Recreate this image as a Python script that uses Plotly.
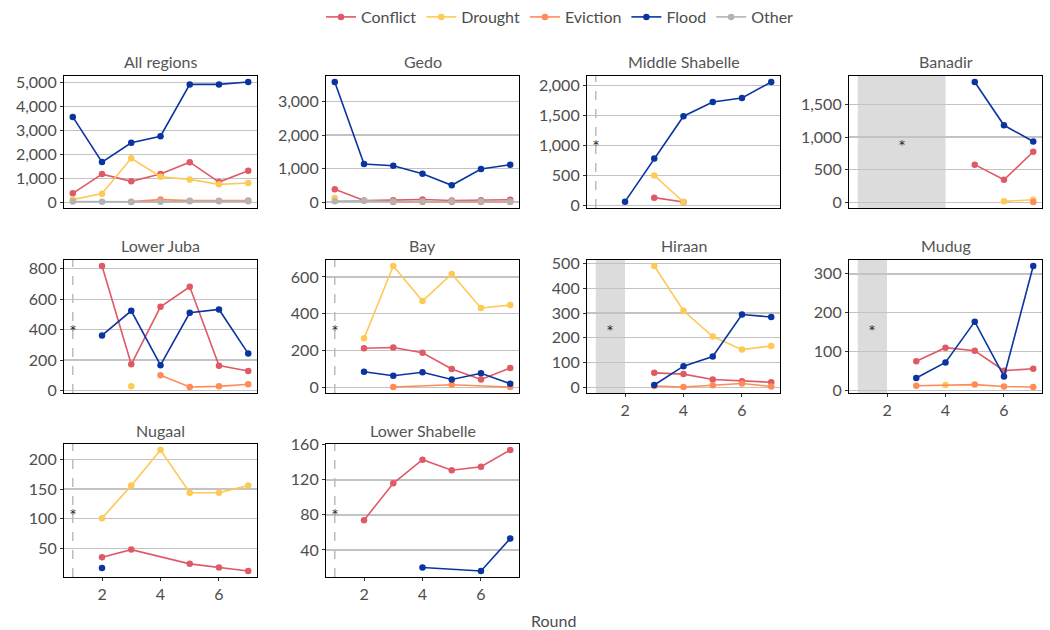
import plotly.graph_objects as go

rounds = [1, 2, 3, 4, 5, 6, 7]
causes = ["Conflict", "Drought", "Eviction", "Flood", "Other"]
cause_colors = ["#E05A66", "#FFC955", "#FF8C57", "#0A35A0", "#B3B3B3"]

regions = ["All regions", "Gedo", "Middle Shabelle", "Banadir",
           "Lower Juba", "Bay", "Hiraan", "Mudug",
           "Nugaal", "Lower Shabelle"]

N = None
# ---- values per region (Conflict, Drought, Eviction, Flood, Other) ----
all_conflict = [374, 1177, 873, 1177, 1676, 845, 1316]
all_drought = [110, 360, 1842, 1066, 956, 748, 803]
all_eviction = [N, N, 25, 110, 66, 58, 70]
all_flood = [3570, 1680, 2490, 2760, 4930, 4930, 5030]
all_other = [30, 20, 10, 20, 40, 40, 40]

gedo_conflict = [385, 50, 60, 80, 50, 60, 70]
gedo_drought = [125, N, N, N, N, N, N]
gedo_eviction = [N, N, 5, 5, 5, 5, 5]
gedo_flood = [3583, 1135, 1086, 849, 503, 987, 1115]
gedo_other = [30, 40, 20, 20, 30, 30, 20]

msh_conflict = [N, N, 128, 55, N, N, N]
msh_drought = [N, N, 500, 55, N, N, N]
msh_flood = [N, 61, 783, 1489, 1728, 1794, 2061]

ban_conflict = [N, N, N, N, 578, 345, 775]
ban_drought = [N, N, N, N, N, 15, 40]
ban_eviction = [N, N, N, N, N, N, 5]
ban_flood = [N, N, N, N, 1845, 1181, 933]

lju_conflict = [N, 818, 173, 550, 682, 164, 129]
lju_drought = [N, N, 28, N, N, N, N]
lju_eviction = [N, N, N, 101, 24, 28, 42]
lju_flood = [N, 362, 524, 167, 511, 533, 243]

bay_conflict = [N, 212, 216, 188, 100, 43, 105]
bay_drought = [N, 266, 659, 469, 616, 431, 447]
bay_eviction = [N, N, 2, N, 14, N, 2]
bay_flood = [N, 85, 63, 82, 43, 76, 20]

hir_conflict = [N, N, 58, 53, 31, 24, 20]
hir_drought = [N, N, 490, 309, 205, 152, 167]
hir_eviction = [N, N, 5, 1, 8, 15, 3]
hir_flood = [N, N, 9, 85, 124, 294, 284]

mud_conflict = [N, N, 75, 110, 102, 51, 56]
mud_drought = [N, N, N, 14, N, N, N]
mud_eviction = [N, N, 12, N, 15, 10, 9]
mud_flood = [N, N, 32, 72, 177, 36, 320]

nug_conflict = [N, 35, 48, N, 24, 18, 12]
nug_drought = [N, 101, 156, 216, 144, 144, 156]
nug_flood = [N, 17, N, N, N, N, N]

lsh_conflict = [N, 74, 116, 143, 131, 135, 154]
lsh_flood = [N, N, N, 20, N, 16, 53]

region_series = {
    "All regions": {"Conflict": all_conflict, "Drought": all_drought, "Eviction": all_eviction,
                    "Flood": all_flood, "Other": all_other},
    "Gedo": {"Conflict": gedo_conflict, "Drought": gedo_drought, "Eviction": gedo_eviction,
             "Flood": gedo_flood, "Other": gedo_other},
    "Middle Shabelle": {"Conflict": msh_conflict, "Drought": msh_drought, "Flood": msh_flood},
    "Banadir": {"Conflict": ban_conflict, "Drought": ban_drought, "Eviction": ban_eviction,
                "Flood": ban_flood},
    "Lower Juba": {"Conflict": lju_conflict, "Drought": lju_drought, "Eviction": lju_eviction,
                   "Flood": lju_flood},
    "Bay": {"Conflict": bay_conflict, "Drought": bay_drought, "Eviction": bay_eviction,
            "Flood": bay_flood},
    "Hiraan": {"Conflict": hir_conflict, "Drought": hir_drought, "Eviction": hir_eviction,
               "Flood": hir_flood},
    "Mudug": {"Conflict": mud_conflict, "Drought": mud_drought, "Eviction": mud_eviction,
              "Flood": mud_flood},
    "Nugaal": {"Conflict": nug_conflict, "Drought": nug_drought, "Flood": nug_flood},
    "Lower Shabelle": {"Conflict": lsh_conflict, "Flood": lsh_flood},
}

# missing-round markers: single missing round 1 (dashed line) or missing span (shaded)
dashed_regions = ["Middle Shabelle", "Lower Juba", "Bay", "Nugaal", "Lower Shabelle"]
shaded_spans = {"Banadir": (1, 4), "Hiraan": (1, 2), "Mudug": (1, 2)}

y_steps = [1000, 1000, 500, 500, 200, 200, 100, 100, 50, 40]

# ---- layout geometry (screen pixels) ----
W, H = 1050, 630
col_x = [(64, 257), (326, 519), (587, 780), (849, 1042)]
row_y = [(76, 208), (260, 393), (444, 577)]
bottom_panels = {6, 7, 8, 9}


def px_x(sx):
    return sx / W


def px_y(sy):
    return 1 - sy / H


FONT = "Lato"
GREY = "#4d4d4d"

fig = go.Figure()
shapes = []
annotations = []

for i, reg in enumerate(regions):
    r, c = divmod(i, 4)
    ax = "" if i == 0 else str(i + 1)
    xa, ya = "x" + ax, "y" + ax
    series = region_series[reg]
    vals = [v for s in series.values() for v in s if v is not None]
    lo, hi = min(vals), max(vals)
    pad = (hi - lo) * 0.05
    yr = [lo - pad, hi + pad]

    for cause, col in zip(causes, cause_colors):
        if cause not in series:
            continue
        fig.add_trace(go.Scatter(
            x=rounds, y=series[cause], mode="lines+markers", name=cause,
            line=dict(color=col, width=1.6), marker=dict(color=col, size=6.5),
            connectgaps=True, legendgroup=cause, showlegend=(i == 0),
            xaxis=xa, yaxis=ya, hoverinfo="skip"))

    x0, x1 = col_x[c]
    y0, y1 = row_y[r]
    fig.layout["xaxis" + ax] = dict(
        domain=[px_x(x0), px_x(x1)], anchor=ya, range=[0.7, 7.3],
        tickvals=[2, 4, 6], showticklabels=(i in bottom_panels),
        ticks="outside" if i in bottom_panels else "", ticklen=3, tickcolor="#333",
        showgrid=False, zeroline=False, showline=True, linecolor="black", linewidth=1.1,
        mirror=True, tickfont=dict(family=FONT, size=16, color=GREY))
    fig.layout["yaxis" + ax] = dict(
        domain=[px_y(y1), px_y(y0)], anchor=xa, range=yr,
        tick0=0, dtick=y_steps[i], tickformat=",d",
        ticks="outside", ticklen=3, tickcolor="#333",
        showgrid=True, gridcolor="#c3c3c3", gridwidth=1.4, zeroline=False,
        showline=True, linecolor="black", linewidth=1.1, mirror=True,
        tickfont=dict(family=FONT, size=16, color=GREY))

    annotations.append(dict(
        text=reg, x=px_x((x0 + x1) / 2), y=px_y(y0 - 14), xref="paper", yref="paper",
        xanchor="center", yanchor="middle", showarrow=False,
        font=dict(family=FONT, size=16, color="#555555")))

    ymid = (yr[0] + yr[1]) / 2
    if reg in dashed_regions:
        shapes.append(dict(type="line", xref=xa, yref=ya + " domain", x0=1, x1=1, y0=0, y1=1,
                           line=dict(color="#bdbdbd", width=1.5, dash="dash"), layer="above"))
        astx = 1
    elif reg in shaded_spans:
        s0, s1 = shaded_spans[reg]
        shapes.append(dict(type="rect", xref=xa, yref=ya + " domain", x0=s0, x1=s1, y0=0, y1=1,
                           fillcolor="#dcdcdc", line=dict(width=0), layer="below"))
        astx = (s0 + s1) / 2
    else:
        astx = None
    if astx is not None:
        annotations.append(dict(
            text="*", x=astx, y=ymid, xref=xa, yref=ya, showarrow=False,
            xanchor="center", yanchor="middle", yshift=-3,
            font=dict(family="DejaVu Sans", size=12, color="#222222")))

annotations.append(dict(
    text="Round", x=px_x(553), y=px_y(620), xref="paper", yref="paper",
    xanchor="center", yanchor="middle", showarrow=False,
    font=dict(family=FONT, size=16, color=GREY)))

fig.update_layout(
    width=W, height=H, margin=dict(l=0, r=0, t=0, b=0, autoexpand=False),
    paper_bgcolor="white", plot_bgcolor="white",
    shapes=shapes, annotations=annotations,
    legend=dict(orientation="h", x=px_x(560), xanchor="center", y=px_y(17), yanchor="middle",
                font=dict(family=FONT, size=16, color=GREY), itemwidth=30,
                tracegroupgap=0),
    font=dict(family=FONT),
)

fig.write_html(
    "out.html",
    config={"displayModeBar": False, "staticPlot": True},
    post_script="document.body.style.margin='0';document.body.style.overflow='hidden';",
)
